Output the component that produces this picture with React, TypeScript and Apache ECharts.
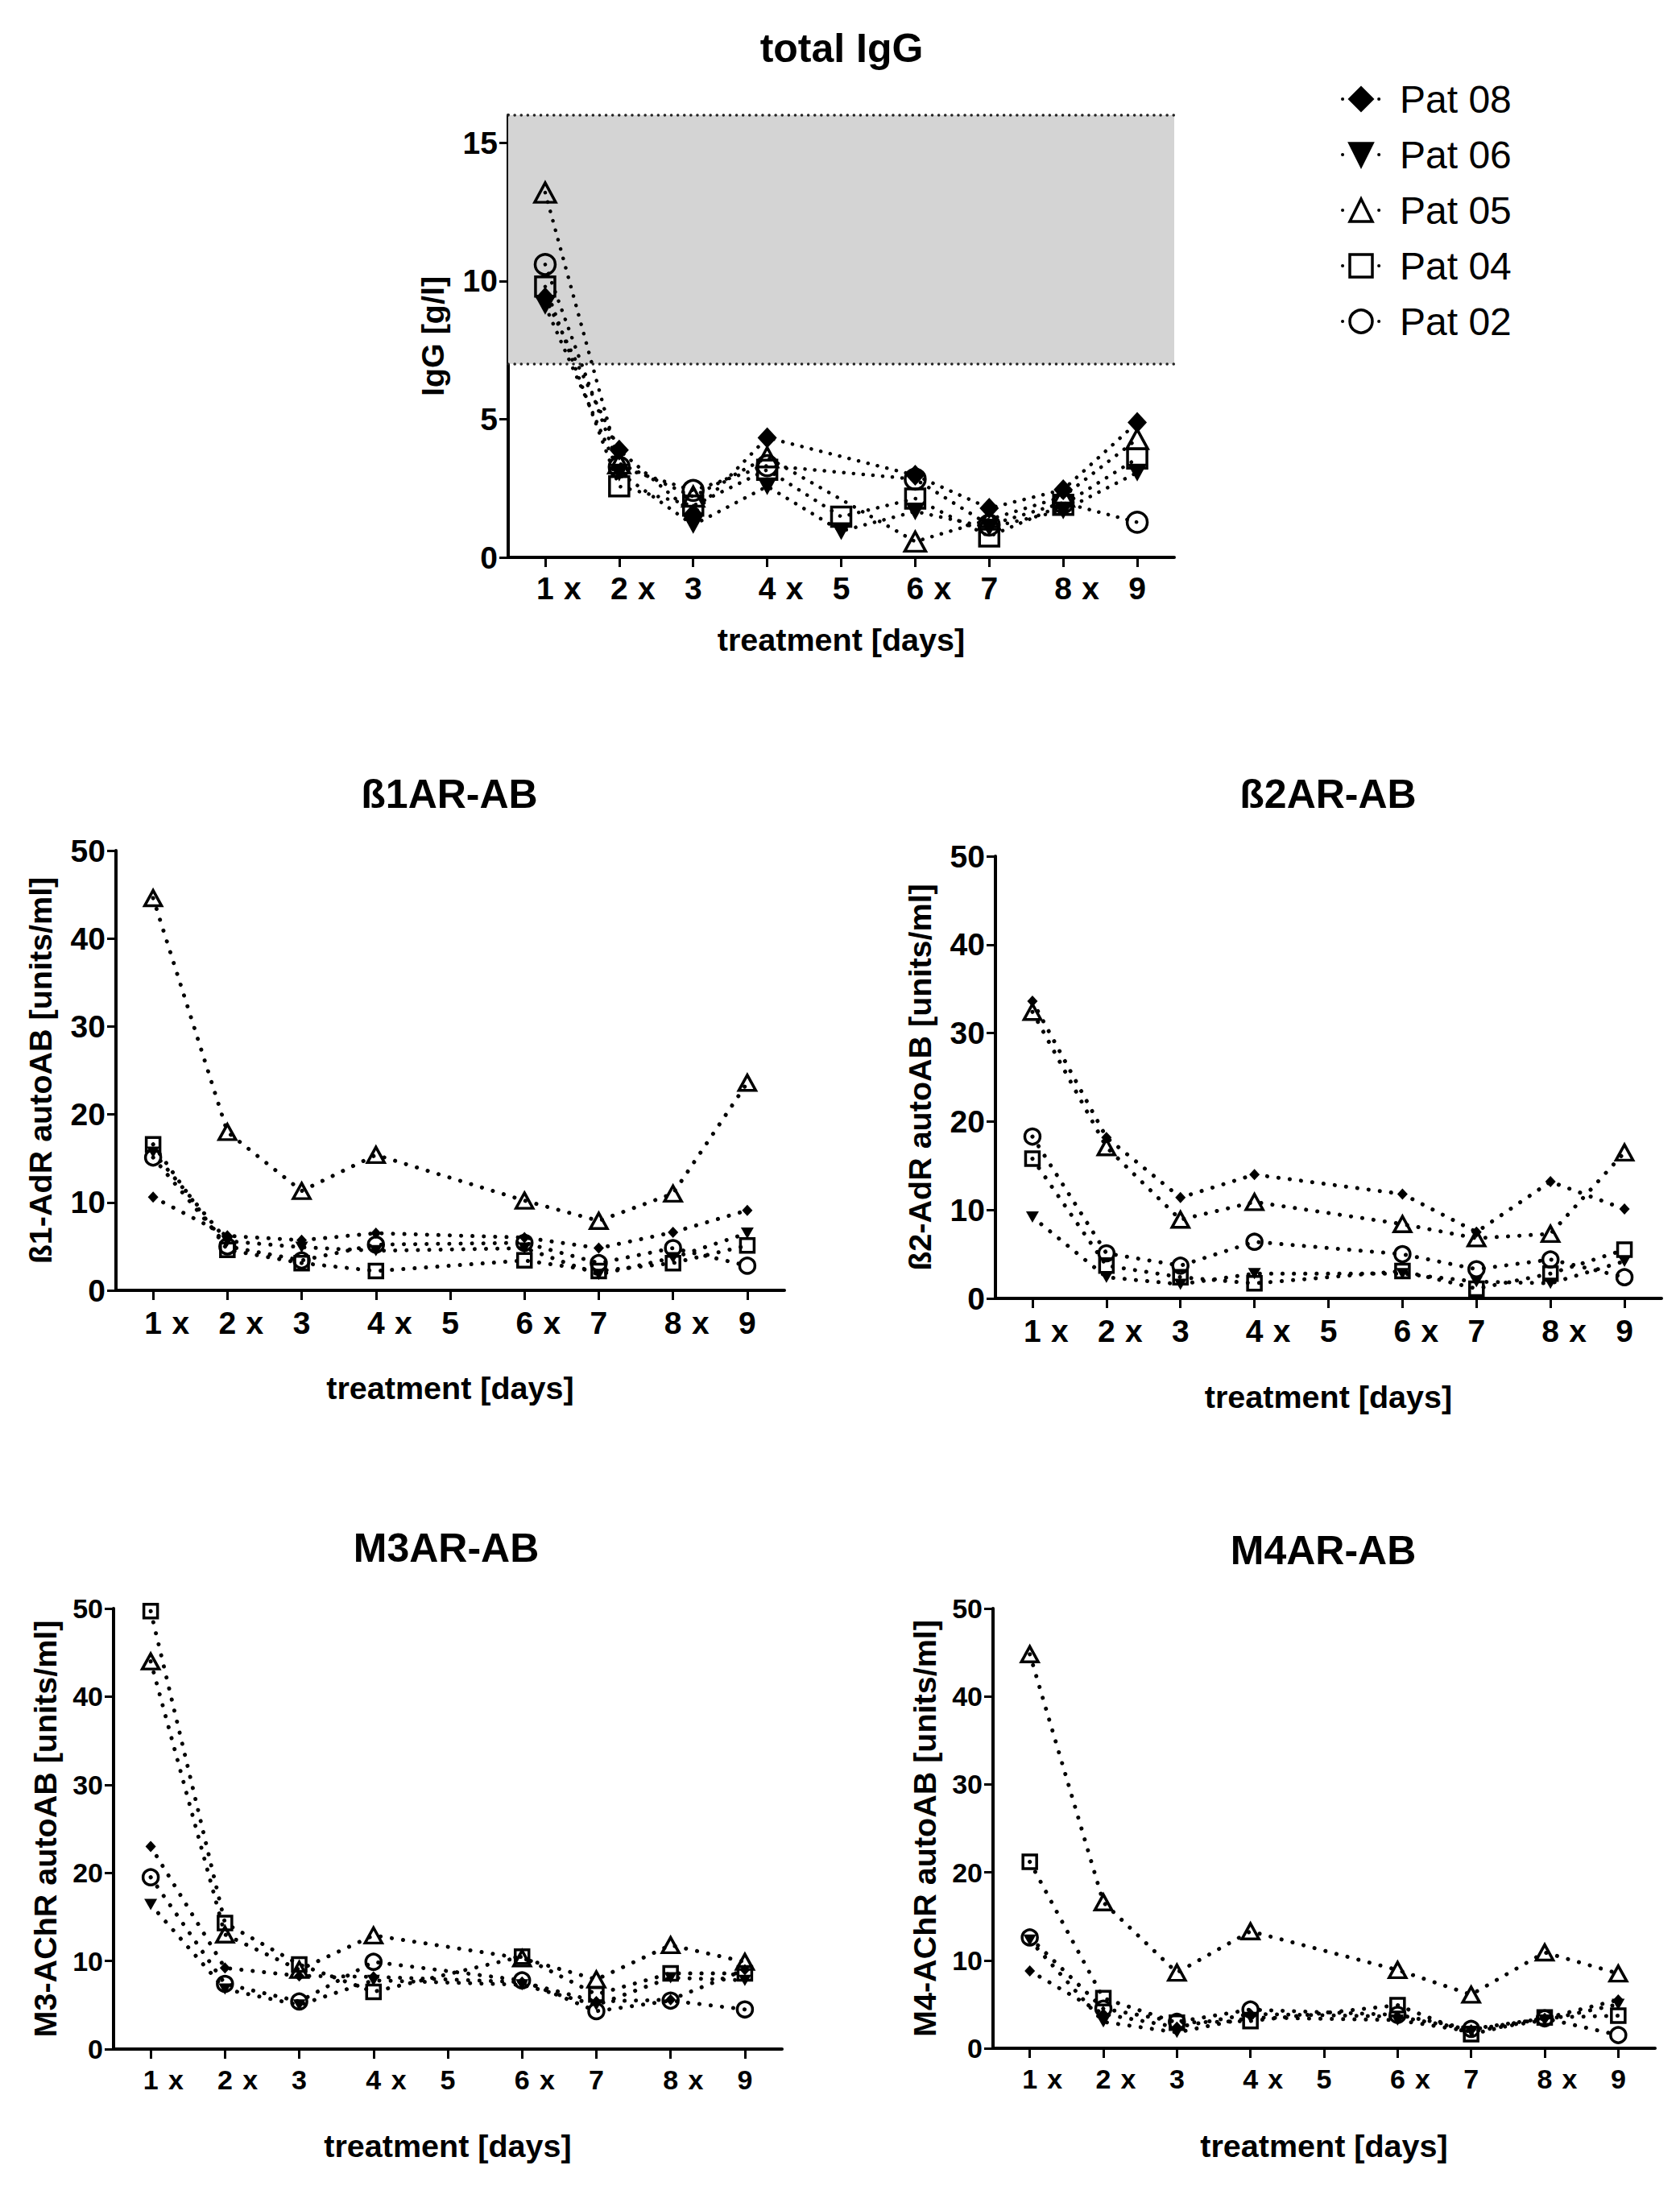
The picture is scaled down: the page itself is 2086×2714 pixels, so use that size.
import React, { useEffect, useRef } from "react";
import * as echarts from "echarts";

// ---------- data ----------
const days = [1, 2, 3, 4, 5, 6, 7, 8, 9];
const dayLabels = ["1", "2", "3", "4", "5", "6", "7", "8", "9"];
const treatmentDays = [1, 2, 4, 6, 8];
const treatmentMark = "x";
const patients = ["Pat 08", "Pat 06", "Pat 05", "Pat 04", "Pat 02"];

const iggNormalRange = [7, 16];
const iggTicks = [0, 5, 10, 15];
const abTicks = [0, 10, 20, 30, 40, 50];

// total IgG [g/l]
const igg08 = [9.4, 3.88, 1.57, 4.33, null, 2.97, 1.78, 2.45, 4.88];
const igg06 = [9.1, 3.07, 1.17, 2.57, 0.95, 1.66, 1.08, 1.7, 3.07];
const igg05 = [13.2, 3.4, 2.2, 3.62, null, 0.57, 1.37, 2.2, 4.28];
const igg04 = [9.8, 2.57, 1.87, 3.17, 1.47, 2.13, 0.76, 1.9, 3.58];
const igg02 = [10.6, 3.27, 2.42, 3.32, null, 2.83, 1.17, 1.98, 1.27];

// ß1-AdR autoAB [units/ml]
const b1_08 = [10.6, 6.2, 5.7, 6.5, null, 6.0, 4.8, 6.6, 9.1];
const b1_06 = [15.7, 5.6, 4.9, 4.5, null, 4.8, 1.8, 3.7, 6.5];
const b1_05 = [44.6, 18.0, 11.3, 15.4, null, 10.2, 7.9, 11.0, 23.6];
const b1_04 = [16.6, 4.6, 3.1, 2.2, null, 3.4, 2.2, 3.1, 5.1];
const b1_02 = [15.1, 5.0, 3.4, 5.2, null, 5.4, 3.1, 4.8, 2.8];

// ß2-AdR autoAB [units/ml]
const b2_08 = [33.6, 18.2, 11.4, 14.0, null, 11.8, 7.5, 13.2, 10.1];
const b2_06 = [9.2, 2.4, 1.6, 2.8, null, 2.8, 1.9, 1.7, 4.2];
const b2_05 = [32.4, 17.1, 8.9, 10.9, null, 8.4, 6.8, 7.3, 16.5];
const b2_04 = [15.8, 3.7, 2.4, 1.7, null, 3.1, 1.1, 2.8, 5.5];
const b2_02 = [18.3, 5.1, 3.7, 6.4, null, 5.0, 3.3, 4.4, 2.4];

// M3-AChR autoAB [units/ml]
const m3_08 = [23.0, 9.2, 8.3, 8.2, null, 7.6, 5.4, 5.6, 9.0];
const m3_06 = [16.4, 6.8, 5.0, 7.8, null, 7.3, 5.0, 8.1, 7.8];
const m3_05 = [44.0, 13.0, 9.0, 12.9, null, 10.3, 7.9, 11.8, 9.9];
const m3_04 = [49.7, 14.3, 9.6, 6.5, null, 10.5, 6.2, 8.6, 8.6];
const m3_02 = [19.5, 7.4, 5.4, 9.9, null, 7.8, 4.3, 5.5, 4.5];

// M4-AChR autoAB [units/ml]
const m4_08 = [8.8, 3.9, 2.4, 3.9, null, 3.6, 2.1, 3.4, 5.5];
const m4_06 = [12.3, 3.0, 1.8, 3.5, null, 3.2, 1.9, 3.2, 5.0];
const m4_05 = [44.8, 16.6, 8.6, 13.3, null, 8.9, 6.1, 10.9, 8.5];
const m4_04 = [21.2, 5.7, 2.9, 3.1, null, 4.9, 1.6, 3.5, 3.7];
const m4_02 = [12.6, 4.5, 3.0, 4.4, null, 3.8, 2.2, 3.4, 1.5];

const panels = [
  { title: "total IgG", yName: "IgG [g/l]", yMax: 16, yTicks: iggTicks, values: [igg08, igg06, igg05, igg04, igg02] },
  { title: "ß1AR-AB", yName: "ß1-AdR autoAB [units/ml]", yMax: 50, yTicks: abTicks, values: [b1_08, b1_06, b1_05, b1_04, b1_02] },
  { title: "ß2AR-AB", yName: "ß2-AdR autoAB [units/ml]", yMax: 50, yTicks: abTicks, values: [b2_08, b2_06, b2_05, b2_04, b2_02] },
  { title: "M3AR-AB", yName: "M3-AChR autoAB [units/ml]", yMax: 50, yTicks: abTicks, values: [m3_08, m3_06, m3_05, m3_04, m3_02] },
  { title: "M4AR-AB", yName: "M4-AChR autoAB [units/ml]", yMax: 50, yTicks: abTicks, values: [m4_08, m4_06, m4_05, m4_04, m4_02] },
];

// ---------- layout / style ----------
const W = 2086;
const H = 2714;
const FONT = '"Liberation Sans", Arial, Helvetica, sans-serif';

const layouts = [
  { left: 631, top: 143, width: 827, height: 549, titleX: 1045, titleTop: 35, tickFont: 39, xShift: 0.37, xLabelMargin: 19, xNameGap: 82, yNameGap: 74, big: true },
  { left: 144, top: 1056, width: 830, height: 546, titleX: 558, titleTop: 961, tickFont: 39, xShift: 0.37, xLabelMargin: 21, xNameGap: 101, yNameGap: 74, big: false },
  { left: 1236, top: 1063, width: 827, height: 549, titleX: 1649, titleTop: 961, tickFont: 39, xShift: 0.37, xLabelMargin: 21, xNameGap: 102, yNameGap: 74, big: false },
  { left: 141, top: 1997, width: 830, height: 547, titleX: 554, titleTop: 1897, tickFont: 34, xShift: 0.34, xLabelMargin: 21, xNameGap: 100, yNameGap: 65, big: false },
  { left: 1233, top: 1997, width: 822, height: 546, titleX: 1643, titleTop: 1900, tickFont: 34, xShift: 0.34, xLabelMargin: 21, xNameGap: 101, yNameGap: 65, big: false },
];

const markers = [
  { symbol: "diamond", rotate: 0, filled: true, big: [24, 26], small: [13, 14] },
  { symbol: "triangle", rotate: 180, filled: true, big: [24, 22], small: [16, 14] },
  { symbol: "triangle", rotate: 0, filled: false, big: [26, 24], small: [21, 19] },
  { symbol: "rect", rotate: 0, filled: false, big: [24, 24], small: [17, 17] },
  { symbol: "circle", rotate: 0, filled: false, big: [25, 25], small: [19, 19] },
];

const dotLine = (width: number, gap: number) => ({
  color: "#000",
  width,
  type: [0.1, gap],
  cap: "round",
});

function buildOption() {
  const grids: any[] = [];
  const xAxes: any[] = [];
  const yAxes: any[] = [];
  const series: any[] = [];
  const titles: any[] = [];

  panels.forEach((p, i) => {
    const L = layouts[i];
    grids.push({ left: L.left, top: L.top, width: L.width, height: L.height, containLabel: false });
    titles.push({
      text: p.title,
      left: L.titleX,
      top: L.titleTop,
      textAlign: "center",
      padding: 0,
      textStyle: { fontFamily: FONT, fontSize: 50, fontWeight: "bold", color: "#000" },
    });
    const labelStyle = {
      fontFamily: FONT,
      fontSize: L.tickFont,
      fontWeight: "bold",
      color: "#000",
    };
    const nameStyle = { fontFamily: FONT, fontSize: 39.5, fontWeight: "bold", color: "#000" };
    xAxes.push({
      gridIndex: i,
      type: "value",
      position: "bottom",
      min: 0.5,
      max: 9.5,
      axisLine: { show: true, onZero: false, lineStyle: { color: "#000", width: 4 } },
      axisTick: { show: true, length: 12, customValues: days, lineStyle: { color: "#000", width: 3 } },
      axisLabel: {
        ...labelStyle,
        margin: L.xLabelMargin,
        customValues: days,
        formatter: (v: number) => dayLabels[days.indexOf(v)] ?? "",
      },
      splitLine: { show: false },
      name: "treatment [days]",
      nameLocation: "middle",
      nameGap: L.xNameGap,
      nameTextStyle: nameStyle,
    });
    xAxes.push({
      gridIndex: i,
      type: "value",
      position: "bottom",
      min: 0.5 - L.xShift,
      max: 9.5 - L.xShift,
      axisLine: { show: false },
      axisTick: { show: false },
      splitLine: { show: false },
      axisLabel: {
        ...labelStyle,
        margin: L.xLabelMargin,
        customValues: treatmentDays,
        formatter: () => treatmentMark,
      },
    });
    yAxes.push({
      gridIndex: i,
      type: "value",
      min: 0,
      max: p.yMax,
      axisLine: { show: true, onZero: false, lineStyle: { color: "#000", width: 4 } },
      axisTick: { show: true, length: 11, customValues: p.yTicks, lineStyle: { color: "#000", width: 3 } },
      axisLabel: { ...labelStyle, margin: 13, customValues: p.yTicks },
      splitLine: { show: false },
      name: p.yName,
      nameLocation: "middle",
      nameRotate: 90,
      nameGap: L.yNameGap,
      nameTextStyle: nameStyle,
    });

    if (i === 0) {
      series.push({
        type: "line",
        name: "normal range",
        xAxisIndex: 0,
        yAxisIndex: 0,
        data: [],
        z: 1,
        silent: true,
        markArea: {
          silent: true,
          itemStyle: { color: "#d4d4d4" },
          data: [[{ yAxis: iggNormalRange[0] }, { yAxis: iggNormalRange[1] }]],
        },
        markLine: {
          silent: true,
          symbol: "none",
          label: { show: false },
          lineStyle: { color: "#222", width: 3.5, type: [0.1, 8], cap: "round" },
          data: [{ yAxis: iggNormalRange[0] }, { yAxis: iggNormalRange[1] }],
        },
      });
    }

    p.values.forEach((vals, j) => {
      const m = markers[j];
      const data = days
        .map((d, k) => [d, vals[k]])
        .filter((pt) => pt[1] !== null && pt[1] !== undefined);
      series.push({
        type: "line",
        name: patients[j],
        xAxisIndex: 2 * i,
        yAxisIndex: i,
        data,
        z: 3,
        clip: false,
        showSymbol: true,
        showAllSymbol: true,
        symbol: m.symbol,
        symbolRotate: m.rotate,
        symbolSize: L.big ? m.big : m.small,
        itemStyle: {
          color: m.filled ? "#000" : "rgba(0,0,0,0)",
          borderColor: "#000",
          borderWidth: m.filled ? 0 : 3.5,
        },
        lineStyle: dotLine(L.big ? 4.5 : 5, L.big ? 12 : 14),
        emphasis: { disabled: true },
      });
    });
  });

  return {
    animation: false,
    backgroundColor: "#fff",
    textStyle: { fontFamily: FONT },
    title: titles,
    legend: {
      orient: "vertical",
      left: 1665,
      top: 99,
      padding: 0,
      itemWidth: 46,
      itemHeight: 35,
      itemGap: 21,
      selectedMode: false,
      data: patients.map((name, j) => ({
        name,
        itemStyle: {
          color: markers[j].filled ? "#000" : "rgba(0,0,0,0)",
          borderColor: "#000",
          borderWidth: 3.5,
        },
      })),
      itemStyle: { borderWidth: 3.5, borderColor: "#000" },
      lineStyle: { color: "#000", width: 4, type: [0.1, 45], cap: "round" },
      textStyle: {
        fontFamily: FONT,
        fontSize: 48,
        fontWeight: "normal",
        color: "#000",
        lineHeight: 47,
        padding: [0, 0, 0, 20],
      },
    },
    grid: grids,
    xAxis: xAxes,
    yAxis: yAxes,
    series,
  };
}

function Figure() {
  const ref = useRef<HTMLDivElement>(null);
  useEffect(() => {
    document.body.style.margin = "0";
    if (!ref.current) return;
    const chart = echarts.init(ref.current, null, { renderer: "svg", width: W, height: H });
    chart.setOption(buildOption() as any);
    return () => {
      chart.dispose();
    };
  }, []);
  return <div ref={ref} style={{ width: W, height: H, background: "#fff" }} />;
}

export default function App() {
  return <Figure />;
}
